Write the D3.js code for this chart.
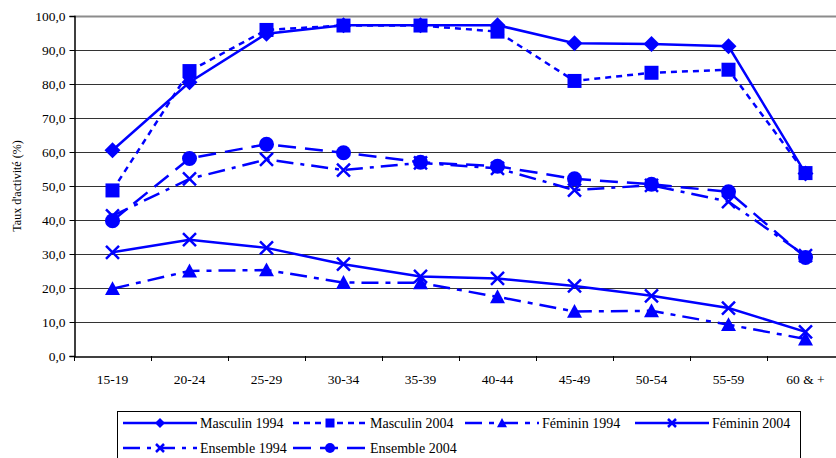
<!DOCTYPE html>
<html>
<head>
<meta charset="utf-8">
<script src="https://cdn.jsdelivr.net/npm/d3@7/dist/d3.min.js"></script>
<style>
  html, body { margin: 0; padding: 0; background: #fff; }
  svg { display: block; }
  text { font-family: "Liberation Serif", "Times New Roman", serif; fill: #000; }
</style>
</head>
<body>
<svg id="chart" width="836" height="458"></svg>
<script>
const categories = ["15-19", "20-24", "25-29", "30-34", "35-39", "40-44", "45-49", "50-54", "55-59", "60 & +"];
const masculin1994 = [60.5, 80.5, 94.8, 97.3, 97.3, 97.3, 92.0, 91.8, 91.1, 53.7];
const masculin2004 = [48.7, 83.8, 95.9, 97.2, 97.2, 95.4, 80.9, 83.3, 84.2, 53.8];
const feminin1994 = [19.8, 25.0, 25.3, 21.6, 21.5, 17.4, 13.1, 13.3, 9.2, 5.0];
const feminin2004 = [30.5, 34.2, 31.8, 27.0, 23.4, 22.8, 20.6, 17.7, 14.1, 7.1];
const ensemble1994 = [41.2, 52.1, 57.8, 54.7, 56.8, 55.2, 48.8, 50.2, 45.4, 29.5];
const ensemble2004 = [39.8, 58.1, 62.3, 59.8, 57.0, 55.8, 52.1, 50.5, 48.3, 29.0];
const seriesNames = ["Masculin 1994", "Masculin 2004", "Féminin 1994", "Féminin 2004", "Ensemble 1994", "Ensemble 2004"];
const yTicks = [0, 10, 20, 30, 40, 50, 60, 70, 80, 90, 100];
const yTickLabels = ["0,0", "10,0", "20,0", "30,0", "40,0", "50,0", "60,0", "70,0", "80,0", "90,0", "100,0"];
const yTitle = "Taux d'activité (%)";

const seriesValues = [masculin1994, masculin2004, feminin1994, feminin2004, ensemble1994, ensemble2004];
const styles = [
  { dash: null, marker: "diamond" },
  { dash: "6,5", marker: "square" },
  { dash: "17,7,5,7", marker: "triangle" },
  { dash: null, marker: "x" },
  { dash: "17,7,4,7", marker: "x" },
  { dash: "18,9", marker: "circle" }
];
const BLUE = "#0000ff";

const svg = d3.select("#chart");
const mLeft = 74, mRight = 844, mTop = 16, mBottom = 356;

const x = d3.scaleBand().domain(categories).range([mLeft, mRight]).paddingInner(0).paddingOuter(0);
const y = d3.scaleLinear().domain([0, 100]).range([mBottom, mTop]);
const cx = c => x(c) + x.bandwidth() / 2;

// gridlines
svg.append("g").selectAll("line").data(yTicks.filter(t => t > 0)).join("line")
  .attr("x1", mLeft).attr("x2", mRight)
  .attr("y1", d => Math.round(y(d)) + 0.5).attr("y2", d => Math.round(y(d)) + 0.5)
  .attr("stroke", d => d === 100 ? "#8c8c8c" : "#333")
  .attr("stroke-width", d => d === 100 ? 2 : 1);

// y axis
const yAxis = d3.axisLeft(y).tickValues(yTicks).tickSize(5).tickFormat((d, i) => yTickLabels[i]);
const gy = svg.append("g").attr("transform", `translate(${mLeft + 0.5},0)`).call(yAxis);
gy.select(".domain").attr("stroke", "#000").attr("stroke-width", 1.5);
gy.selectAll(".tick line").attr("stroke", "#000");
gy.selectAll(".tick text").attr("x", -9).attr("font-size", 13.5).attr("font-family", "Liberation Serif").attr("fill", "#000");

// x axis
const gx = svg.append("g").attr("transform", `translate(0,${mBottom + 0.5})`)
  .call(d3.axisBottom(x).tickSize(0).tickPadding(18));
gx.select(".domain").attr("stroke", "#000").attr("stroke-width", 1.5);
gx.selectAll(".tick text").attr("font-size", 13.5).attr("font-family", "Liberation Serif").attr("fill", "#000");
// tick marks at band boundaries
svg.append("g").selectAll("line").data(categories).join("line")
  .attr("x1", d => Math.round(x(d)) + 0.5).attr("x2", d => Math.round(x(d)) + 0.5)
  .attr("y1", mBottom).attr("y2", mBottom + 5)
  .attr("stroke", "#000").attr("stroke-width", 1);

// y title
svg.append("text")
  .attr("transform", `translate(21,${(mTop + mBottom) / 2}) rotate(-90)`)
  .attr("text-anchor", "middle")
  .attr("font-size", 12)
  .text(yTitle);

function drawMarker(g, type, px, py, s) {
  if (type === "diamond") {
    g.append("path").attr("d", `M${px},${py - s}L${px + s},${py}L${px},${py + s}L${px - s},${py}Z`).attr("fill", BLUE);
  } else if (type === "square") {
    g.append("rect").attr("x", px - s).attr("y", py - s).attr("width", 2 * s).attr("height", 2 * s).attr("fill", BLUE);
  } else if (type === "triangle") {
    g.append("path").attr("d", `M${px},${py - s}L${px + s},${py + s * 0.85}L${px - s},${py + s * 0.85}Z`).attr("fill", BLUE);
  } else if (type === "circle") {
    g.append("circle").attr("cx", px).attr("cy", py).attr("r", s).attr("fill", BLUE);
  } else if (type === "x") {
    g.append("path").attr("d", `M${px - s},${py - s}L${px + s},${py + s}M${px + s},${py - s}L${px - s},${py + s}`)
      .attr("stroke", BLUE).attr("stroke-width", 2.5).attr("fill", "none");
  }
}
const markerSize = { diamond: 8, square: 7, triangle: 7.5, circle: 7.5, x: 6.5 };
const legendMarkerSize = { diamond: 5, square: 4.5, triangle: 5, circle: 5, x: 4 };

const line = d3.line().x((d, i) => cx(categories[i])).y(d => y(d));

seriesValues.forEach((vals, si) => {
  const g = svg.append("g");
  g.append("path").datum(vals).attr("d", line)
    .attr("fill", "none").attr("stroke", BLUE).attr("stroke-width", 2.5)
    .attr("stroke-dasharray", styles[si].dash);
  vals.forEach((v, i) => drawMarker(g, styles[si].marker, cx(categories[i]), y(v), markerSize[styles[si].marker]));
});

// legend
const lg = svg.append("g");
lg.append("rect").attr("x", 117.5).attr("y", 411.5).attr("width", 683).attr("height", 60)
  .attr("fill", "#fff").attr("stroke", "#000").attr("stroke-width", 1);
const legendCols = [123, 293, 465, 635];
seriesNames.forEach((name, i) => {
  const col = i < 4 ? i : i - 4;
  const row = i < 4 ? 0 : 1;
  const lx = legendCols[col], ly = row === 0 ? 423 : 448;
  lg.append("line").attr("x1", lx).attr("x2", lx + 74).attr("y1", ly).attr("y2", ly)
    .attr("stroke", BLUE).attr("stroke-width", 2.5).attr("stroke-dasharray", styles[i].dash);
  drawMarker(lg, styles[i].marker, lx + 37, ly, legendMarkerSize[styles[i].marker]);
  lg.append("text").attr("x", lx + 77).attr("y", ly).attr("dy", "0.35em").attr("font-size", 14).text(name);
});
</script>
</body>
</html>
